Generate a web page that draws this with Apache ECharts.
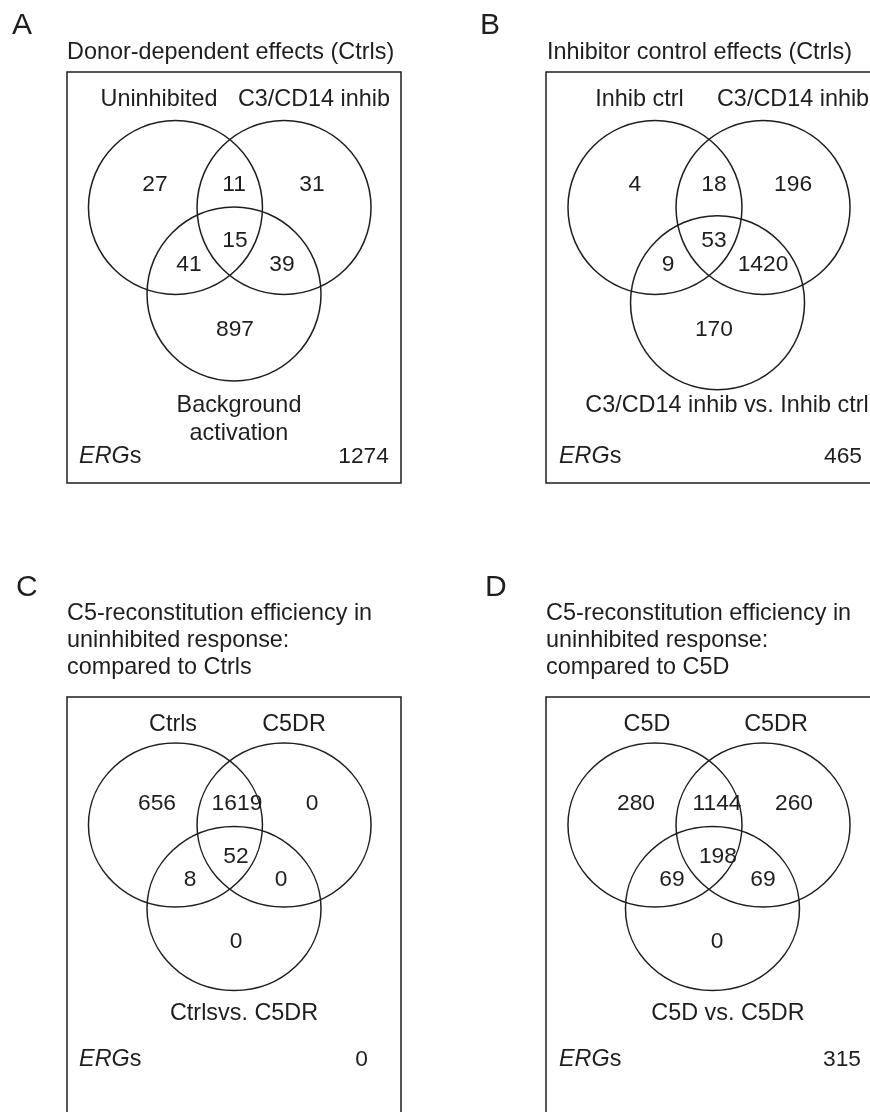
<!DOCTYPE html>
<html><head><meta charset="utf-8">
<script src="https://cdn.jsdelivr.net/npm/echarts@6/dist/echarts.min.js"></script>
<style>html,body{margin:0;padding:0;background:#fff}#main{width:870px;height:1112px}</style>
</head><body><div id="main"></div>
<script>
// ---------- data ----------
const panelLetters = ['A', 'B', 'C', 'D'];
const panelTitles = [
  ['Donor-dependent effects (Ctrls)'],
  ['Inhibitor control effects (Ctrls)'],
  ['C5-reconstitution efficiency in', 'uninhibited response:', 'compared to Ctrls'],
  ['C5-reconstitution efficiency in', 'uninhibited response:', 'compared to C5D']
];
const setNamesA = ['Uninhibited', 'C3/CD14 inhib', 'Background\nactivation'];
const setNamesB = ['Inhib ctrl', 'C3/CD14 inhib', 'C3/CD14 inhib vs. Inhib ctrl'];
const setNamesC = ['Ctrls', 'C5DR', 'Ctrlsvs. C5DR'];
const setNamesD = ['C5D', 'C5DR', 'C5D vs. C5DR'];
// region order: only set1, set1∩set2, only set2, all three, set1∩set3, set2∩set3, only set3
const countsA = [27, 11, 31, 15, 41, 39, 897];
const countsB = [4, 18, 196, 53, 9, 1420, 170];
const countsC = [656, 1619, 0, 52, 8, 0, 0];
const countsD = [280, 1144, 260, 198, 69, 69, 0];
const ergTotals = [1274, 465, 0, 315];
const ergLabel = 'ERG';

// ---------- layout (radius units, separate from data) ----------
const layouts = [
  { grid: [67, 72, 334, 411], origin: [229.75, 207.5], r: [87, 87],
    circles: [[-0.624, 0], [0.624, 0], [0.049, -0.994]],
    regions: [[-0.859, 0.282], [0.049, 0.282], [0.945, 0.282], [0.06, -0.362], [-0.468, -0.638], [0.6, -0.638], [0.06, -1.385]],
    setPos: [[-0.813, 1.259], [0.968, 1.259], [0.106, -2.42]],
    ergPos: [-1.732, -2.839], totalPos: [1.83, -2.839] },
  { grid: [546, 72, 334, 411], origin: [709, 207.5], r: [87, 87],
    circles: [[-0.621, 0], [0.621, 0], [0.098, -1.094]],
    regions: [[-0.851, 0.282], [0.057, 0.282], [0.966, 0.282], [0.057, -0.362], [-0.471, -0.638], [0.621, -0.638], [0.057, -1.385]],
    setPos: [[-0.799, 1.259], [0.966, 1.259], [0.207, -2.259]],
    ergPos: [-1.724, -2.839], totalPos: [1.759, -2.839] },
  { grid: [67, 697, 334, 450], origin: [229.75, 825], r: [87, 82],
    circles: [[-0.624, 0], [0.624, 0], [0.049, -1.018]],
    regions: [[-0.836, 0.28], [0.083, 0.28], [0.945, 0.28], [0.072, -0.366], [-0.457, -0.646], [0.589, -0.646], [0.072, -1.402]],
    setPos: [[-0.652, 1.244], [0.739, 1.244], [0.164, -2.28]],
    ergPos: [-1.732, -2.841], totalPos: [1.589, -2.841] },
  { grid: [546, 697, 334, 450], origin: [709, 825], r: [87, 82],
    circles: [[-0.621, 0], [0.621, 0], [0.040, -1.018]],
    regions: [[-0.839, 0.28], [0.092, 0.28], [0.977, 0.28], [0.103, -0.366], [-0.425, -0.646], [0.621, -0.646], [0.092, -1.402]],
    setPos: [[-0.713, 1.244], [0.770, 1.244], [0.218, -2.28]],
    ergPos: [-1.724, -2.841], totalPos: [1.747, -2.841] }
];
const letterPos = [[12, 26], [480, 26], [16, 588], [485, 588]];
const titlePos = [[67, 52.5], [547, 52.5], [67, 640.5], [546, 640.5]];
const TEXT_DY = 1.8;

const FONT = '"Liberation Sans", Arial, Helvetica, sans-serif';
const INK = '#1e1e1e';
const LABEL_SIZE = 23.4;
const NUM_SIZE = 22.8;
const setNames = [setNamesA, setNamesB, setNamesC, setNamesD];
const counts = [countsA, countsB, countsC, countsD];

const grids = [], xAxes = [], yAxes = [], series = [];
layouts.forEach((L, i) => {
  const [left, top, width, height] = L.grid;
  grids.push({ left, top, width, height, show: true, borderColor: INK, borderWidth: 1.5,
    backgroundColor: 'transparent', containLabel: false, outerBoundsMode: 'none' });
  xAxes.push({ type: 'value', gridIndex: i, show: false,
    min: (left - L.origin[0]) / L.r[0], max: (left + width - L.origin[0]) / L.r[0] });
  yAxes.push({ type: 'value', gridIndex: i, show: false,
    min: (L.origin[1] - (top + height)) / L.r[1], max: (L.origin[1] - top) / L.r[1] });

  // circles
  series.push({
    type: 'custom', xAxisIndex: i, yAxisIndex: i, silent: true, clip: false,
    data: L.circles,
    renderItem: (params, api) => {
      const p = api.coord([api.value(0), api.value(1)]);
      const s = api.size([1, 1]);
      return { type: 'ellipse', shape: { cx: p[0], cy: p[1], rx: s[0], ry: s[1] },
        style: { fill: 'none', stroke: INK, lineWidth: 1.5 } };
    }
  });
  // region counts
  series.push({
    type: 'custom', xAxisIndex: i, yAxisIndex: i, silent: true, clip: false,
    data: L.regions.map((p, k) => [p[0], p[1], counts[i][k]]),
    renderItem: (params, api) => {
      const p = api.coord([api.value(0), api.value(1)]);
      return { type: 'text', x: p[0], y: p[1] + TEXT_DY,
        style: { text: String(api.value(2)), fontSize: NUM_SIZE, fontFamily: FONT, fill: INK, align: 'center', verticalAlign: 'middle' } };
    }
  });
  // set names
  series.push({
    type: 'custom', xAxisIndex: i, yAxisIndex: i, silent: true, clip: false,
    data: L.setPos,
    renderItem: (params, api) => {
      const p = api.coord([api.value(0), api.value(1)]);
      return { type: 'text', x: p[0], y: p[1] + TEXT_DY,
        style: { text: setNames[i][params.dataIndex], fontSize: LABEL_SIZE, lineHeight: 28, fontFamily: FONT, fill: INK, align: 'center', verticalAlign: 'middle' } };
    }
  });
  // ERGs label and total outside the circles
  series.push({
    type: 'custom', xAxisIndex: i, yAxisIndex: i, silent: true, clip: false,
    data: [[L.ergPos[0], L.ergPos[1], 0], [L.totalPos[0], L.totalPos[1], ergTotals[i]]],
    renderItem: (params, api) => {
      const p = api.coord([api.value(0), api.value(1)]);
      if (params.dataIndex === 0) {
        return { type: 'text', x: p[0], y: p[1] + TEXT_DY,
          style: { text: '{i|' + ergLabel + '}s', fontSize: LABEL_SIZE, fontFamily: FONT, fill: INK, align: 'left', verticalAlign: 'middle',
            rich: { i: { fontStyle: 'italic', fontSize: LABEL_SIZE, fontFamily: FONT, fill: INK } } } };
      }
      return { type: 'text', x: p[0], y: p[1] + TEXT_DY,
        style: { text: String(api.value(2)), fontSize: NUM_SIZE, fontFamily: FONT, fill: INK, align: 'right', verticalAlign: 'middle' } };
    }
  });
});

const graphics = [];
panelLetters.forEach((t, i) => {
  graphics.push({ type: 'text', x: letterPos[i][0], y: letterPos[i][1],
    style: { text: t, fontSize: 30, fontFamily: FONT, fill: INK, align: 'left', verticalAlign: 'middle' } });
  graphics.push({ type: 'text', x: titlePos[i][0], y: titlePos[i][1],
    style: { text: panelTitles[i].join('\n'), fontSize: LABEL_SIZE, lineHeight: 26.7, fontFamily: FONT, fill: INK, align: 'left', verticalAlign: 'middle' } });
});

const chart = echarts.init(document.getElementById('main'), null, { renderer: 'canvas' });
chart.setOption({
  animation: false,
  backgroundColor: '#fff',
  grid: grids, xAxis: xAxes, yAxis: yAxes, series,
  graphic: graphics
});
</script></body></html>
